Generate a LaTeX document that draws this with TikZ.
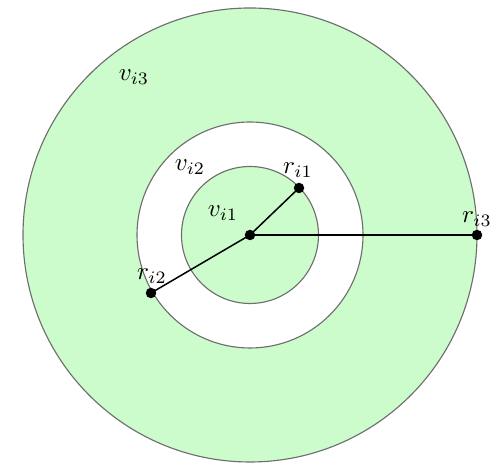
\documentclass[tikz,border=0pt]{standalone}
\definecolor{ringgreen}{RGB}{204,252,204}
\definecolor{ringgray}{RGB}{110,110,110}
\tikzset{
  ring/.style={draw=ringgray, line width=0.45pt},
  dot/.style={circle, fill=black, inner sep=0pt, minimum size=4.2pt},
  radius line/.style={draw=black, line width=0.6pt},
  lbl/.style={inner sep=0pt}
}
\begin{document}
\begin{tikzpicture}[x=0.4pt, y=-0.4pt]
\useasboundingbox (0,0) rectangle (501,464);
\fill[white] (0,0) rectangle (501,464);
\coordinate (c) at (250,235);
\path[ring, fill=ringgreen] (c) circle[radius=227*0.4pt];
\path[ring, fill=white] (c) circle[radius=113*0.4pt];
\path[ring, fill=ringgreen] (c) circle[radius=68.5*0.4pt];
\node[dot] (o) at (c) {};
\node[dot] (p1) at (299,188) {};
\node[dot] (p2) at (151,293) {};
\node[dot] (p3) at (477,235) {};
\draw[radius line] (o.center) -- (p1.center);
\draw[radius line] (o.center) -- (p2.center);
\draw[radius line] (o.center) -- (p3.center);
\node[lbl] (l1) at (298,170) {$r_{i1}$};
\node[lbl] (l2) at (152,276) {$r_{i2}$};
\node[lbl] (l3) at (477,219) {$r_{i3}$};
\node[lbl] (v1) at (223,213) {$v_{i1}$};
\node[lbl] (v2) at (190,167) {$v_{i2}$};
\node[lbl] (v3) at (134,77) {$v_{i3}$};
\end{tikzpicture}
\end{document}
